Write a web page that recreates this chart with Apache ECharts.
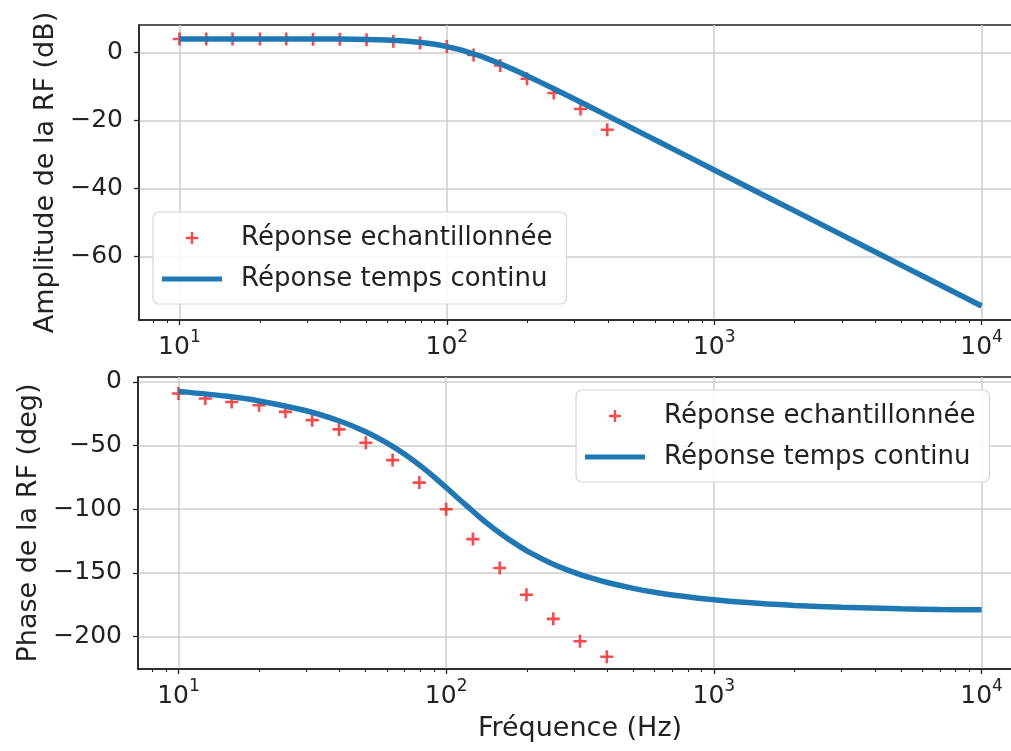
<!DOCTYPE html>
<html>
<head>
<meta charset="utf-8">
<script src="https://cdn.jsdelivr.net/npm/echarts@6/dist/echarts.min.js"></script>
<style>
  html, body { margin: 0; padding: 0; background: #fff; }
  #chart { width: 1011px; height: 751px; }
</style>
</head>
<body>
<div id="chart"></div>
<script>
// noms des courbes
const SAMP = 'Réponse echantillonnée';
const CONT = 'Réponse temps continu';

// réponse échantillonnée (croix rouges)
const freqSamp = [10, 12.6, 15.8, 20, 25.1, 31.6, 39.8, 50.1, 63.1, 79.4, 100, 125.9, 158.5, 199.5, 251.2, 316.2, 398.1];
const gainSamp = [4.0, 4.0, 4.0, 4.0, 4.0, 3.9, 3.9, 3.8, 3.3, 2.8, 1.8, -0.7, -3.8, -7.7, -11.9, -16.6, -22.7];
const phaseSamp = [-9.1, -13, -15.7, -18.3, -23.5, -30, -37.3, -47.8, -61.4, -79.1, -100, -123.5, -146.2, -167.2, -186.2, -203.8, -216];

// réponse temps continu (courbe bleue)
const freqCont = [10, 15, 20, 30, 40, 50, 60, 70, 80, 90, 100, 110, 120, 130, 140, 160, 180, 200, 250, 300, 350, 400, 500, 600, 700, 1000, 1500, 2000, 3000, 5000, 7000, 10000];
const gainCont = [4.0, 4.0, 4.0, 4.0, 3.95, 3.85, 3.67, 3.38, 2.97, 2.42, 1.76, 1.0, 0.16, -0.72, -1.63, -3.45, -5.2, -6.86, -10.54, -13.64, -16.29, -18.6, -22.46, -25.63, -28.3, -34.5, -41.55, -46.54, -53.59, -62.46, -68.3, -74.5];
const phaseCont = [-7.4, -11.1, -14.9, -22.6, -30.7, -39.1, -47.9, -56.8, -65.8, -74.6, -83.0, -90.8, -97.8, -104.2, -109.9, -119.3, -126.7, -132.7, -143.0, -149.6, -154.2, -157.6, -162.2, -165.3, -167.4, -171.2, -174.2, -175.6, -177.1, -178.3, -178.8, -179.1];

// graduations
const freqTicks = [10, 100, 1000, 10000];
const freqMinor = [8, 9, 20, 30, 40, 50, 60, 70, 80, 90, 200, 300, 400, 500, 600, 700, 800, 900, 2000, 3000, 4000, 5000, 6000, 7000, 8000, 9000];
const ampTicks = [-60, -40, -20, 0];
const phaseTicks = [-200, -150, -100, -50, 0];

const FONT = 'DejaVu Sans';
const TXT = '#222';
const GRIDC = '#cdcdcd';
const XMIN = 7.06, XMAX = 14160;

const plusPath = 'path://M4,0H6V4H10V6H6V10H4V6H0V4H4Z';
const linePath = 'path://M0,0H60V5H0Z';

function zip(xs, ys) {
    return xs.map((x, i) => [x, ys[i]]);
}
function minus(v) {
    return String(v).replace('-', '\u2212');
}

function mainX(gridIndex, withName) {
    return {
        type: 'log', logBase: 10, gridIndex: gridIndex,
        min: XMIN, max: XMAX,
        name: withName ? 'Fréquence (Hz)' : '',
        nameLocation: 'middle', nameGap: 46,
        nameTextStyle: { fontSize: 27, color: TXT, fontFamily: FONT },
        axisLine: { onZero: false, lineStyle: { color: '#222', width: 1.5 } },
        axisTick: { length: 5, customValues: freqTicks, lineStyle: { color: '#222', width: 1.3 } },
        axisLabel: {
            customValues: freqTicks,
            margin: 9,
            formatter: v => '{b|10}{s|' + Math.round(Math.log10(v)) + '}',
            rich: {
                b: { fontSize: 25, color: TXT, fontFamily: FONT },
                s: { fontSize: 17, color: TXT, fontFamily: FONT, padding: [0, 0, 20, 0] }
            }
        },
        splitLine: { show: true, lineStyle: { color: GRIDC, width: 1.5 } },
        minorTick: { show: false }
    };
}
function minorX(gridIndex) {
    return {
        type: 'log', logBase: 10, gridIndex: gridIndex,
        min: XMIN, max: XMAX,
        axisLine: { show: false, onZero: false },
        axisLabel: { show: false },
        splitLine: { show: false },
        axisTick: { length: 3, customValues: freqMinor, lineStyle: { color: '#222', width: 1 } }
    };
}
function mainY(gridIndex, min, max, ticks, name, gap) {
    return {
        type: 'value', gridIndex: gridIndex, min: min, max: max,
        name: name, nameLocation: 'middle', nameGap: gap,
        nameTextStyle: { fontSize: 27, color: TXT, fontFamily: FONT },
        axisLine: { show: true, onZero: false, lineStyle: { color: '#222', width: 1.5 } },
        axisTick: { show: true, length: 5, customValues: ticks, lineStyle: { color: '#222', width: 1.3 } },
        axisLabel: {
            customValues: ticks, margin: 16,
            fontSize: 25, color: TXT, fontFamily: FONT,
            formatter: v => minus(v)
        },
        splitLine: { show: true, lineStyle: { color: GRIDC, width: 1.5 } }
    };
}
function legendAt(left, top) {
    return {
        orient: 'vertical', left: left, top: top,
        padding: [11, 14, 10, 9],
        itemWidth: 60, itemHeight: 12, itemGap: 11,
        backgroundColor: 'rgba(255,255,255,0.85)',
        borderColor: '#d6d6d6', borderWidth: 1.2, borderRadius: 6,
        itemStyle: { borderWidth: 0 },
        textStyle: { fontSize: 26, color: TXT, fontFamily: FONT, lineHeight: 30, padding: [0, 0, 0, 14] },
        data: [{ name: SAMP, icon: plusPath }, { name: CONT, icon: linePath }]
    };
}

const chart = echarts.init(document.getElementById('chart'), null, { renderer: 'canvas' });
chart.setOption({
    animation: false,
    backgroundColor: '#fff',
    textStyle: { fontFamily: FONT },
    grid: [
        { left: 139, top: 25, width: 883, height: 295, show: true, borderColor: '#222', borderWidth: 1.5, outerBoundsMode: 'none' },
        { left: 138, top: 377, width: 884, height: 292, show: true, borderColor: '#222', borderWidth: 1.5, outerBoundsMode: 'none' },
        { left: 139, top: 25, width: 883, height: 295, show: false, outerBoundsMode: 'none' },
        { left: 138, top: 377, width: 884, height: 292, show: false, outerBoundsMode: 'none' }
    ],
    xAxis: [mainX(0, false), mainX(1, true), minorX(2), minorX(3)],
    yAxis: [
        mainY(0, -78.6, 8.1, ampTicks, 'Amplitude de la RF (dB)', 80),
        mainY(1, -225.6, 3.9, phaseTicks, 'Phase de la RF (deg)', 94),
        { type: 'value', gridIndex: 2, show: false, min: 0, max: 1 },
        { type: 'value', gridIndex: 3, show: false, min: 0, max: 1 }
    ],
    legend: [legendAt(153, 212), legendAt(576, 390)],
    series: [
        {
            name: SAMP, type: 'scatter', xAxisIndex: 0, yAxisIndex: 0,
            data: zip(freqSamp, gainSamp),
            symbol: plusPath, symbolSize: 13,
            itemStyle: { color: '#ff1a1a' }, z: 2
        },
        {
            name: CONT, type: 'line', xAxisIndex: 0, yAxisIndex: 0,
            data: zip(freqCont, gainCont),
            showSymbol: false, smooth: 0.2,
            lineStyle: { color: '#1f77b4', width: 5.5 },
            itemStyle: { color: '#1f77b4' }, z: 3
        },
        {
            name: SAMP, type: 'scatter', xAxisIndex: 1, yAxisIndex: 1,
            data: zip(freqSamp, phaseSamp),
            symbol: plusPath, symbolSize: 13,
            itemStyle: { color: '#ff1a1a' }, z: 2
        },
        {
            name: CONT, type: 'line', xAxisIndex: 1, yAxisIndex: 1,
            data: zip(freqCont, phaseCont),
            showSymbol: false, smooth: 0.2,
            lineStyle: { color: '#1f77b4', width: 5.5 },
            itemStyle: { color: '#1f77b4' }, z: 3
        }
    ]
});
</script>
</body>
</html>
